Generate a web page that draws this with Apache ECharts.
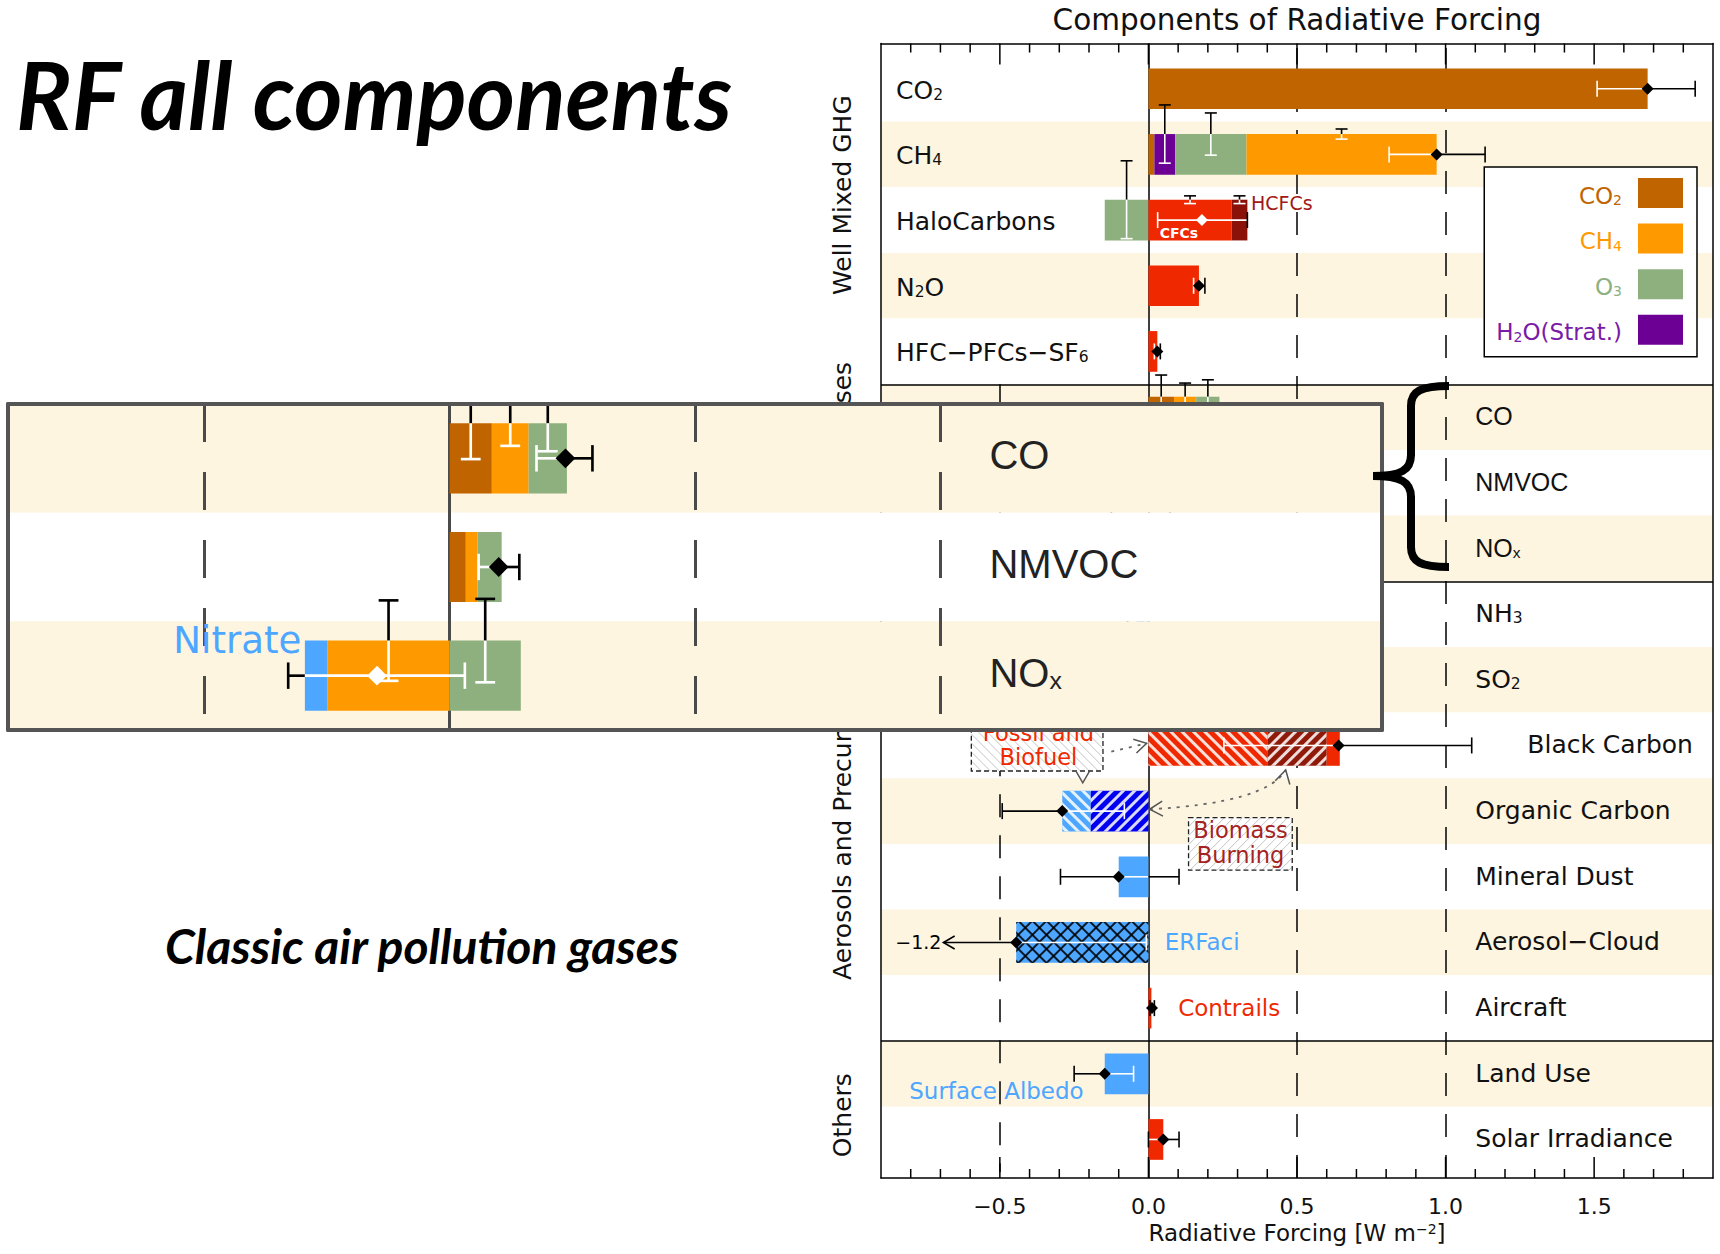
<!DOCTYPE html>
<html>
<head>
<meta charset="utf-8">
<title>Components of Radiative Forcing</title>
<script src="https://cdn.jsdelivr.net/npm/echarts@6/dist/echarts.min.js"></script>
<style>
html,body{margin:0;padding:0;background:#fff;}
#chart{width:1720px;height:1254px;}
</style>
</head>
<body>
<div id="chart"></div>
<script>
// ================= DATA (W m-2) =================
const _ = null;
const rows = ['CO2','CH4','HaloCarbons','N2O','HFC-PFCs-SF6','CO','NMVOC','NOx','NH3','SO2',
  'Black Carbon','Organic Carbon','Mineral Dust','Aerosol-Cloud','Aircraft','Land Use','Solar Irradiance'];
const rowLabels = ['CO{s|2}','CH{s|4}','HaloCarbons','N{s|2}O','HFC−PFCs−SF{s|6}','CO','NMVOC','NO{s|x}','NH{s|3}','SO{s|2}',
  'Black Carbon','Organic Carbon','Mineral Dust','Aerosol−Cloud','Aircraft','Land Use','Solar Irradiance'];
const groupNames = ['Well Mixed GHG','Short Lived Gases','Aerosols and Precursors','Others'];
const groupRows  = [[0,5],[5,8],[8,15],[15,17]];
const xTickLabels = [-0.5, 0.0, 0.5, 1.0, 1.5];
const refLines    = [-0.5, 0.0, 0.5, 1.0];

// stacked contributions, one entry per row
const co2Part      = [1.68, 0.02, _, _, _, 0.086, 0.033, _, _, _, _, _, _, _, _, _, _];
const h2oPart      = [_, 0.07, _, _, _, _, _, _, _, _, _, _, _, _, _, _, _];
const ch4Indirect  = [_, _, _, _, _, 0.075, 0.024, -0.249, _, _, _, _, _, _, _, _, _];
const o3Part       = [_, 0.24, -0.147, _, _, 0.078, 0.049, 0.145, _, _, _, _, _, _, _, _, _];
const ch4Direct    = [_, 0.64, _, _, _, _, _, _, _, _, _, _, _, _, _, _, _];
const nitratePart  = [_, _, _, _, _, _, _, -0.046, -0.04, _, _, _, _, _, _, _, _];
const sulphatePart = [_, _, _, _, _, _, _, _, _, -0.40, _, _, _, _, _, _, _];
const bcFossil     = [_, _, _, _, _, _, _, _, _, _, 0.40, _, _, _, _, _, _];
const bcBiomass    = [_, _, _, _, _, _, _, _, _, _, 0.20, _, _, _, _, _, _];
const redPart      = [_, _, 0.28, 0.17, 0.03, _, _, _, _, _, 0.044, _, _, _, 0.01, _, 0.05];
const hcfcPart     = [_, _, 0.053, _, _, _, _, _, _, _, _, _, _, _, _, _, _];
const ocBiomass    = [_, _, _, _, _, _, _, _, _, _, _, -0.195, _, _, _, _, _];
const ocFossil     = [_, _, _, _, _, _, _, _, _, _, _, -0.095, _, _, _, _, _];
const dustPart     = [_, _, _, _, _, _, _, _, _, _, _, _, -0.10, _, _, _, _];
const erfaciPart   = [_, _, _, _, _, _, _, _, _, _, _, _, _, -0.445, _, _, _];
const albedoPart   = [_, _, _, _, _, _, _, _, _, _, _, _, _, _, _, -0.147, _];

// half-ranges of the component uncertainty bars
const co2Unc    = [_, _, _, _, _, 0.073, _, _, _, _, _, _, _, _, _, _, _];
const h2oUnc    = [_, 0.098, _, _, _, _, _, _, _, _, _, _, _, _, _, _, _];
const ch4IndUnc = [_, _, _, _, _, 0.046, _, 0.082, _, _, _, _, _, _, _, _, _];
const o3Unc     = [_, 0.071, 0.131, _, _, 0.057, _, 0.085, _, _, _, _, _, _, _, _, _];
const ch4DirUnc = [_, 0.017, _, _, _, _, _, _, _, _, _, _, _, _, _, _, _];
const redUnc    = [_, _, 0.013, _, _, _, _, _, _, _, _, _, _, _, _, _, _];
const hcfcUnc   = [_, _, 0.013, _, _, _, _, _, _, _, _, _, _, _, _, _, _];

// totals with uncertainty range
const totalBest = [1.68, 0.97, 0.18, 0.17, 0.03, 0.236, 0.10, -0.148, -0.04, -0.40, 0.64, -0.29, -0.10, -0.445, 0.012, -0.147, 0.05];
const totalLow  = [1.51, 0.81, 0.031, 0.152, 0.02, 0.177, 0.059, -0.329, -0.07, -0.60, 0.254, -0.492, -0.296, -1.2, 0.005, -0.25, 0.0];
const totalHigh = [1.84, 1.133, 0.333, 0.19, 0.04, 0.291, 0.142, 0.031, -0.01, -0.20, 1.088, -0.081, 0.103, -0.007, 0.02, -0.05, 0.103];

// ================= LAYOUT / STYLE =================
const X_MIN = -0.9, X_MAX = 1.9;
const MAIN  = {left: 881, top: 43.5, width: 832, height: 1134.5};
const ROWS  = {left: 881, top: 55.9, width: 832, height: 1116.4};
const INSET = {left: 8, top: 404, width: 1374, height: 326};
const U_MAIN  = ROWS.width / (X_MAX - X_MIN);
const U_INSET = INSET.width / (X_MAX - X_MIN);
const S_INSET = U_INSET / U_MAIN;
const FRAC_MAIN = 0.62, FRAC_INSET = 0.645;
const IN_FROM = 5, IN_TO = 8;
const LABEL_X = 1.10;
const ARROW_AT = -0.69;
const GROUP_LABEL_AT = [2.12, 6.38, 11.79, 16.13];   // vertical centre (in rows) of the rotated group titles
const FONT = 'DejaVu Sans';
const C = {
  co2: '#c06400', ch4: '#ff9900', o3: '#8db07e', h2o: '#6c0094',
  red: '#f02800', dred: '#8f1a0a', hcfc: '#8a1208', lblue: '#4da6ff', dblue: '#0000f0',
  cream: '#fdf5e0', inset: '#555555', hcfcText: '#a01818', bioText: '#a52222', h2oText: '#7a1aa8'
};

const stackDefs = [
  {name: 'CO2', data: co2Part, color: C.co2, unc: co2Unc},
  {name: 'H2O(Strat.)', data: h2oPart, color: C.h2o, unc: h2oUnc},
  {name: 'CH4 via chemistry', data: ch4Indirect, color: C.ch4, unc: ch4IndUnc},
  {name: 'O3', data: o3Part, color: C.o3, unc: o3Unc},
  {name: 'CH4', data: ch4Direct, color: C.ch4, unc: ch4DirUnc},
  {name: 'Nitrate', data: nitratePart, color: C.lblue},
  {name: 'Sulphate', data: sulphatePart, color: C.lblue},
  {name: 'BC fossil and biofuel', data: bcFossil, color: C.red, hatch: 'back'},
  {name: 'BC biomass burning', data: bcBiomass, color: C.dred, hatch: 'fwd'},
  {name: 'Direct', data: redPart, color: C.red, unc: redUnc},
  {name: 'HCFCs', data: hcfcPart, color: C.hcfc, unc: hcfcUnc},
  {name: 'OC biomass burning', data: ocBiomass, color: C.dblue, hatch: 'fwd'},
  {name: 'OC fossil and biofuel', data: ocFossil, color: C.lblue, hatch: 'back'},
  {name: 'Mineral dust', data: dustPart, color: C.lblue},
  {name: 'ERFaci', data: erfaciPart, color: C.lblue, hatch: 'cross'},
  {name: 'Surface albedo', data: albedoPart, color: C.lblue}
];

// stacking (same-sign, as ECharts does) to know segment positions and bar extents
const segs = [];
const extent = rows.map(() => [0, 0]);
rows.forEach((r, i) => {
  let p = 0, n = 0;
  stackDefs.forEach(d => {
    const v = d.data[i];
    if (v == null) return;
    let a, b;
    if (v >= 0) { a = p; b = p + v; p = b; } else { a = n; b = n + v; n = b; }
    segs.push({row: i, d, start: a, end: b});
  });
  extent[i] = [n, p];
});

// ---------- text helpers ----------
function toRich(label, pre) {
  return label.split(/(\{s\|[^}]*\})/).filter(p => p).map(p =>
    p.startsWith('{s|') ? p.replace('{s|', '{' + pre + 's|') : '{' + pre + 'n|' + p + '}').join('');
}
function richPair(pre, size, family, color) {
  const o = {};
  o[pre + 'n'] = {fontFamily: family, fontSize: size, lineHeight: size * 1.2, verticalAlign: 'bottom', color};
  o[pre + 's'] = {fontFamily: family, fontSize: size * 0.62, lineHeight: size * 0.2, verticalAlign: 'bottom', color};
  return o;
}
const richMain = Object.assign({}, richPair('', 25, FONT, '#111'), richPair('a', 25, 'Liberation Sans', '#111'),
  {bc: {fontFamily: FONT, fontSize: 25, lineHeight: 30, verticalAlign: 'bottom', color: '#111', padding: [0, 0, 0, 52]}});
const richInset = Object.assign({}, richPair('a', 40, 'Liberation Sans', '#222'));
const arialRows = [5, 6, 7];
function rightLabel(i) {
  if (rows[i] === 'Black Carbon') return '{bc|' + rowLabels[i] + '}';
  return toRich(rowLabels[i], arialRows.includes(i) ? 'a' : '');
}

// ---------- decals ----------
function stripe(dir, s, color, w, gap) {
  return {symbol: 'rect', symbolSize: 1, color, dashArrayX: [1, 0], dashArrayY: [w * s, gap * s],
          rotation: dir === 'back' ? Math.PI / 4 : -Math.PI / 4};
}
function barsFor(xi, yi, from, to, zlevel, frac, s, stackKey) {
  const list = [];
  stackDefs.forEach(d => {
    const base = {type: 'bar', xAxisIndex: xi, yAxisIndex: yi, zlevel, z: 2, silent: true, animation: false,
      barWidth: (frac * 100).toFixed(1) + '%', barGap: '-100%', data: d.data.slice(from, to)};
    const it = {color: d.color};
    if (d.hatch === 'back' || d.hatch === 'fwd') it.decal = stripe(d.hatch, s, 'rgba(255,255,255,0.85)', 2.3, 4.8);
    if (d.hatch === 'cross') it.decal = stripe('back', s, 'rgba(0,0,0,0.85)', 1.4, 7.2);
    list.push(Object.assign({}, base, {name: d.name, stack: stackKey, itemStyle: it}));
    if (d.hatch === 'cross') {
      list.push(Object.assign({}, base, {name: d.name + ' hatch', stack: stackKey + '-hatch',
        itemStyle: {color: 'rgba(0,0,0,0)', decal: stripe('fwd', s, 'rgba(0,0,0,0.85)', 1.4, 7.2)}}));
    }
  });
  return list;
}

// ---------- custom renderers ----------
function chevron(tx, ty, dx, dy, len, stroke, lw) {
  const m = Math.hypot(dx, dy), bx = -dx / m, by = -dy / m, a = Math.PI / 6;
  const c = Math.cos(a), sn = Math.sin(a);
  const p1 = [tx + (bx * c - by * sn) * len, ty + (bx * sn + by * c) * len];
  const p2 = [tx + (bx * c + by * sn) * len, ty + (-bx * sn + by * c) * len];
  return {type: 'polyline', shape: {points: [p1, [tx, ty], p2]}, style: {stroke, lineWidth: lw, fill: null}};
}
function fmt(v) { return (v < 0 ? '−' : '') + Math.abs(v).toFixed(1); }

function totalsData(from, to) {
  const out = [];
  for (let i = from; i < to; i++) if (totalBest[i] != null) out.push([totalBest[i], i - from + 0.5, i]);
  return out;
}
function totalsRender(from) {
  return function (params, api) {
    const i = api.value(2);
    const best = totalBest[i], lo = totalLow[i], hi = totalHigh[i];
    const u = api.size([1, 0])[0], s = u / U_MAIN;
    const yc = api.coord([0, i - from + 0.5])[1];
    const X = v => api.coord([v, 0])[0];
    const bmin = extent[i][0], bmax = extent[i][1];
    const inBar = (v, m) => v > bmin + m && v < bmax - m;
    const lw = 1.6 * s, cap = 8 * s, dm = 6 * s;
    const kids = [];
    let loD = lo, arrow = false;
    if (lo < X_MIN) { loD = ARROW_AT; arrow = true; }
    const cuts = [loD, hi, bmin, bmax].filter(v => v >= loD && v <= hi).sort((a, b) => a - b);
    for (let k = 0; k < cuts.length - 1; k++) {
      const a = cuts[k], b = cuts[k + 1];
      if (b - a <= 1e-9) continue;
      kids.push({type: 'line', shape: {x1: X(a), y1: yc, x2: X(b), y2: yc},
        style: {stroke: inBar((a + b) / 2, 0) ? '#fff' : '#000', lineWidth: lw}});
    }
    const capEl = v => ({type: 'line', shape: {x1: X(v), y1: yc - cap, x2: X(v), y2: yc + cap},
      style: {stroke: inBar(v, 0.005) ? '#fff' : '#000', lineWidth: lw}});
    if (!arrow) kids.push(capEl(lo));
    else {
      kids.push(chevron(X(loD), yc, -1, 0, 13 * s, '#000', lw));
      kids.push({type: 'text', style: {x: X(loD) - 2 * s, y: yc, text: fmt(lo), fill: '#000',
        fontFamily: FONT, fontSize: 19 * s, align: 'right', verticalAlign: 'middle'}});
    }
    kids.push(capEl(hi));
    const xb = X(best);
    kids.push({type: 'polygon', shape: {points: [[xb - dm, yc], [xb, yc - dm], [xb + dm, yc], [xb, yc + dm]]},
      style: {fill: inBar(best, 0.012) ? '#fff' : '#000', stroke: null}});
    return {type: 'group', children: kids};
  };
}

function compData(from, to) {
  return segs.filter(g => g.row >= from && g.row < to && g.d.unc && g.d.unc[g.row] != null)
    .map(g => [(g.start + g.end) / 2, g.row - from + 0.5, g.d.unc[g.row]]);
}
function compRender(frac) {
  return function (params, api) {
    const cx = api.value(0), yv = api.value(1), unc = api.value(2);
    const u = api.size([1, 0])[0], s = u / U_MAIN, rowPx = api.size([0, 1])[1];
    const p = api.coord([cx, yv]);
    const x = p[0], yTop = p[1] - rowPx * frac / 2;
    const h = unc * u, w = 6 * s, lw = 1.6 * s;
    return {type: 'group', children: [
      {type: 'line', shape: {x1: x, y1: yTop - h, x2: x, y2: yTop}, style: {stroke: '#000', lineWidth: lw}},
      {type: 'line', shape: {x1: x, y1: yTop, x2: x, y2: yTop + h}, style: {stroke: '#fff', lineWidth: lw}},
      {type: 'line', shape: {x1: x - w, y1: yTop - h, x2: x + w, y2: yTop - h}, style: {stroke: '#000', lineWidth: lw}},
      {type: 'line', shape: {x1: x - w, y1: yTop + h, x2: x + w, y2: yTop + h}, style: {stroke: '#fff', lineWidth: lw}}
    ]};
  };
}

// annotation layout (value coordinates: x in W m-2, y in rows)
const textNotes = [
  {row: 2, x: 0.345, dy: -0.255, text: 'HCFCs', color: C.hcfcText, size: 19, align: 'left'},
  {row: 2, x: 0.038, dy: 0.2, text: 'CFCs', color: '#fff', size: 14, align: 'left', weight: 'bold'},
  {row: 7, x: -0.302, top: true, text: 'Nitrate', color: C.lblue, size: 22.5, align: 'right'},
  {row: 13, x: 0.055, dy: 0, text: 'ERFaci', color: C.lblue, size: 23, align: 'left'},
  {row: 14, x: 0.10, dy: 0, text: 'Contrails', color: C.red, size: 23, align: 'left'},
  {row: 15, x: -0.805, dy: 0.26, text: 'Surface Albedo', color: C.lblue, size: 23, align: 'left'}
];
const noteBoxes = [
  {x0: -0.596, x1: -0.153, y0: 10.0, y1: 10.889, hatch: 'back', cx: -0.37, color: C.red,
   lines: [['Fossil and', 10.31], ['Biofuel', 10.68]]},
  {x0: 0.135, x1: 0.484, y0: 11.60, y1: 12.40, hatch: 'fwd', cx: 0.31, color: C.bioText,
   lines: [['Biomass', 11.79], ['Burning', 12.17]]}
];
function hatchLines(x0, y0, x1, y1, dir, step, stroke) {
  const out = [];
  if (dir === 'back') {
    for (let c = y0 - x1; c <= y1 - x0; c += step) {
      const xa = Math.max(x0, y0 - c), xb = Math.min(x1, y1 - c);
      if (xb > xa) out.push({type: 'line', shape: {x1: xa, y1: xa + c, x2: xb, y2: xb + c}, style: {stroke, lineWidth: 1}});
    }
  } else {
    for (let c = x0 + y0; c <= x1 + y1; c += step) {
      const xa = Math.max(x0, c - y1), xb = Math.min(x1, c - y0);
      if (xb > xa) out.push({type: 'line', shape: {x1: xa, y1: c - xa, x2: xb, y2: c - xb}, style: {stroke, lineWidth: 1}});
    }
  }
  return out;
}
function notesRender(from, to, frac, withBoxes) {
  return function (params, api) {
    const u = api.size([1, 0])[0], s = u / U_MAIN;
    const P = (x, y) => api.coord([x, y]);
    const kids = [];
    textNotes.filter(t => t.row >= from && t.row < to).forEach(t => {
      const yv = t.row - from + 0.5 + (t.top ? -frac / 2 : t.dy);
      const p = P(t.x, yv);
      kids.push({type: 'text', style: {x: p[0], y: p[1], text: t.text, fill: t.color, fontFamily: FONT,
        fontSize: t.size * s, fontWeight: t.weight || 'normal', align: t.align, verticalAlign: 'middle'}});
    });
    if (withBoxes) {
      noteBoxes.forEach(b => {
        const a = P(b.x0, b.y0), c = P(b.x1, b.y1);
        kids.push({type: 'rect', shape: {x: a[0], y: a[1], width: c[0] - a[0], height: c[1] - a[1]}, style: {fill: '#fff'}});
        hatchLines(a[0], a[1], c[0], c[1], b.hatch, 9, '#c4c4c4').forEach(l => kids.push(l));
        kids.push({type: 'rect', shape: {x: a[0], y: a[1], width: c[0] - a[0], height: c[1] - a[1]},
          style: {fill: null, stroke: '#222', lineWidth: 1.3, lineDash: [5, 3]}});
        b.lines.forEach(l => {
          const q = P(b.cx, l[1]);
          kids.push({type: 'text', style: {x: q[0], y: q[1], text: l[0], fill: b.color, fontFamily: FONT,
            fontSize: 22.5, align: 'center', verticalAlign: 'middle'}});
        });
      });
      const dot = {stroke: '#666', lineWidth: 1.8, lineDash: [3, 6], fill: null};
      const f0 = P(-0.125, 10.595), f1 = P(-0.006, 10.468);
      kids.push({type: 'line', shape: {x1: f0[0], y1: f0[1], x2: f1[0], y2: f1[1]}, style: dot});
      kids.push(chevron(f1[0], f1[1], f1[0] - f0[0], f1[1] - f0[1], 14, '#555', 1.5));
      const v = P(-0.221, 11.07);
      kids.push(chevron(v[0], v[1], 0, 1, 13, '#555', 1.5));
      const c0 = P(0.004, 11.472), cc = P(0.395, 11.377), c1 = P(0.462, 10.874);
      kids.push({type: 'bezierCurve', shape: {x1: c0[0], y1: c0[1], x2: c1[0], y2: c1[1], cpx1: cc[0], cpy1: cc[1]}, style: dot});
      kids.push(chevron(c0[0], c0[1], c0[0] - cc[0], c0[1] - cc[1], 15, '#555', 1.5));
      kids.push(chevron(c1[0], c1[1], 0.25, -1, 15, '#555', 1.5));
      const gx = P(X_MIN, 0)[0] - 38.5;
      groupNames.forEach((g, k) => {
        kids.push({type: 'text', x: gx, y: P(X_MIN, GROUP_LABEL_AT[k])[1], rotation: Math.PI / 2,
          style: {text: g, fontFamily: FONT, fontSize: 25, fill: '#111', align: 'center', verticalAlign: 'middle'}});
      });
    }
    return {type: 'group', children: kids};
  };
}

const minorTicks = [];
for (let k = -8; k <= 18; k++) minorTicks.push([k / 10, 0]);
function tickRender(params, api) {
  const v = api.value(0);
  const pb = api.coord([v, 0]), pt = api.coord([v, 1]);
  const major = Math.abs(v * 2 - Math.round(v * 2)) < 1e-6;
  const L = major ? 21 : 9;
  return {type: 'group', children: [
    {type: 'line', shape: {x1: pt[0], y1: pt[1], x2: pt[0], y2: pt[1] + L}, style: {stroke: '#000', lineWidth: 1.5}},
    {type: 'line', shape: {x1: pb[0], y1: pb[1], x2: pb[0], y2: pb[1] - L}, style: {stroke: '#000', lineWidth: 1.5}}
  ]};
}

const DASH_MAIN = [23, 18];
function vLine(v, color, width, dash) { return {xAxis: v, lineStyle: {color, width, type: v === 0 ? 'solid' : dash}}; }
// in the main panel the -0.5 line only runs through the lower groups
const mainFullLines = refLines.filter(v => v >= 0).map(v => vLine(v, '#000', 1.5, DASH_MAIN));
const mainPartLines = refLines.filter(v => v < 0).map(v => [
  {coord: [v, groupRows[1][0]], lineStyle: {color: '#000', width: 1.5, type: DASH_MAIN}},
  {coord: [v, rows.length]}]);

// brace linking the inset to the short-lived gases rows (decoration)
const braceStyle = {stroke: '#000', lineWidth: 8, fill: null};
const brace = [
  {type: 'bezierCurve', shape: {x1: 1449, y1: 386, cpx1: 1421, cpy1: 386, cpx2: 1411, cpy2: 391, x2: 1411, y2: 406}},
  {type: 'line', shape: {x1: 1411, y1: 405, x2: 1411, y2: 456}},
  {type: 'bezierCurve', shape: {x1: 1411, y1: 455, cpx1: 1411, cpy1: 470, cpx2: 1401, cpy2: 476, x2: 1373, y2: 476}},
  {type: 'bezierCurve', shape: {x1: 1373, y1: 476, cpx1: 1401, cpy1: 476, cpx2: 1411, cpy2: 482, x2: 1411, y2: 497}},
  {type: 'line', shape: {x1: 1411, y1: 496, x2: 1411, y2: 548}},
  {type: 'bezierCurve', shape: {x1: 1411, y1: 547, cpx1: 1411, cpy1: 562, cpx2: 1421, cpy2: 567, x2: 1449, y2: 567}}
].map(e => Object.assign(e, {zlevel: 1, z: 30, style: braceStyle}));

// ================= OPTION =================
const offAxis = {axisTick: {show: false}, axisLabel: {show: false}, splitLine: {show: false}};
const frameLine = {show: true, onZero: false, lineStyle: {color: '#000', width: 1.5}};
const insetLine = {show: true, onZero: false, lineStyle: {color: C.inset, width: 4}};
const mlBase = {silent: true, symbol: ['none', 'none'], animation: false, label: {show: false}};

const option = {
  animation: false,
  textStyle: {fontFamily: FONT},
  grid: [
    Object.assign({}, MAIN, {containLabel: false}),
    Object.assign({}, ROWS, {containLabel: false}),
    Object.assign({}, INSET, {containLabel: false, zlevel: 1})
  ],
  xAxis: [
    Object.assign({gridIndex: 0, type: 'value', min: X_MIN, max: X_MAX, position: 'bottom', z: 3,
      axisLine: frameLine, axisTick: {show: false}, splitLine: {show: false},
      axisLabel: {customValues: xTickLabels, formatter: fmt, margin: 17, fontSize: 22, color: '#111', fontFamily: FONT},
      name: '{n|Radiative Forcing [W m}{p|−2}{n|]}', nameLocation: 'middle', nameGap: 43,
      nameTextStyle: {rich: {n: {fontFamily: FONT, fontSize: 23, lineHeight: 28, verticalAlign: 'top', color: '#111'},
                             p: {fontFamily: FONT, fontSize: 14, lineHeight: 6, verticalAlign: 'top', color: '#111'}}}}),
    Object.assign({gridIndex: 0, type: 'value', min: X_MIN, max: X_MAX, position: 'top', z: 3, axisLine: frameLine}, offAxis),
    {gridIndex: 1, type: 'value', min: X_MIN, max: X_MAX, show: false},
    Object.assign({gridIndex: 2, type: 'value', min: X_MIN, max: X_MAX, position: 'bottom', zlevel: 1, z: 6, axisLine: insetLine}, offAxis),
    Object.assign({gridIndex: 2, type: 'value', min: X_MIN, max: X_MAX, position: 'top', zlevel: 1, z: 6, axisLine: insetLine}, offAxis)
  ],
  yAxis: [
    Object.assign({gridIndex: 0, type: 'value', min: 0, max: 1, position: 'left', z: 3, axisLine: frameLine}, offAxis),
    Object.assign({gridIndex: 0, type: 'value', min: 0, max: 1, position: 'right', z: 3, axisLine: frameLine}, offAxis),
    {gridIndex: 1, type: 'category', data: rows, inverse: true, position: 'left',
      axisLine: {show: false}, axisTick: {show: false}, splitLine: {show: false},
      splitArea: {show: true, interval: 0, areaStyle: {color: ['#ffffff', C.cream]}},
      axisLabel: {inside: true, margin: 15, align: 'left', interval: 0, padding: [0, 0, 2, 0],
        formatter: (v, i) => i < 5 ? toRich(rowLabels[i], '') : '', rich: richMain}},
    {gridIndex: 1, type: 'category', data: rows, inverse: true, position: 'right',
      axisLine: {show: false}, axisTick: {show: false}, splitLine: {show: false},
      axisLabel: {inside: true, margin: (X_MAX - LABEL_X) * U_MAIN, align: 'left', interval: 0, padding: [0, 0, 6.5, 0],
        formatter: (v, i) => i >= 5 ? rightLabel(i) : '', rich: richMain}},
    {gridIndex: 1, type: 'value', min: 0, max: rows.length, inverse: true, show: false},
    {gridIndex: 2, type: 'category', data: rows.slice(IN_FROM, IN_TO), inverse: true, position: 'left', zlevel: 1, z: 0,
      axisLine: insetLine, axisTick: {show: false}, axisLabel: {show: false}, splitLine: {show: false},
      splitArea: {show: true, interval: 0, areaStyle: {color: [C.cream, '#ffffff']}}},
    {gridIndex: 2, type: 'category', data: rows.slice(IN_FROM, IN_TO), inverse: true, position: 'right', zlevel: 1, z: 6,
      axisLine: insetLine, axisTick: {show: false}, splitLine: {show: false},
      axisLabel: {inside: true, margin: (X_MAX - LABEL_X) * U_INSET, align: 'left', interval: 0, padding: [0, 0, 14, 0],
        formatter: (v, i) => toRich(rowLabels[i + IN_FROM], 'a'), rich: richInset}},
    {gridIndex: 2, type: 'value', min: 0, max: IN_TO - IN_FROM, inverse: true, show: false}
  ],
  legend: {
    right: 23, top: 167, orient: 'vertical', align: 'right', icon: 'rect', itemWidth: 45, itemHeight: 30, itemGap: 15.6,
    padding: [11, 14, 12, 12], borderColor: '#000', borderWidth: 1.5, backgroundColor: '#fff', selectedMode: false, z: 6,
    data: [
      {name: 'CO2', textStyle: {color: C.co2}},
      {name: 'CH4', textStyle: {color: C.ch4}},
      {name: 'O3', textStyle: {color: C.o3}},
      {name: 'H2O(Strat.)', textStyle: {color: C.h2oText}}
    ],
    formatter: name => ({'CO2': '{n|CO}{s|2}', 'CH4': '{n|CH}{s|4}', 'O3': '{n|O}{s|3}', 'H2O(Strat.)': '{n|H}{s|2}{n|O(Strat.)}'}[name]) + '{g| }',
    textStyle: {rich: {
      n: {fontFamily: FONT, fontSize: 23, lineHeight: 28, verticalAlign: 'bottom'},
      s: {fontFamily: FONT, fontSize: 14, lineHeight: 6, verticalAlign: 'bottom'},
      g: {fontSize: 10, width: 11}
    }}
  },
  graphic: [
    {type: 'text', x: 16, y: 94, style: {text: 'RF all components', fontFamily: 'Lato', fontSize: 93, fontWeight: 'bold',
      fontStyle: 'italic', fill: '#000', align: 'left', verticalAlign: 'middle'}},
    {type: 'text', x: 165, y: 945, style: {text: 'Classic air pollution gases', fontFamily: 'Lato', fontSize: 48, fontWeight: 'bold',
      fontStyle: 'italic', fill: '#000', align: 'left', verticalAlign: 'middle'}},
    {type: 'text', x: 1297, y: 20, style: {text: 'Components of Radiative Forcing', fontFamily: FONT, fontSize: 29.5,
      fill: '#111', align: 'center', verticalAlign: 'middle'}}
  ].concat(brace),
  series: [
    {type: 'custom', name: 'ticks', xAxisIndex: 0, yAxisIndex: 0, data: minorTicks, renderItem: tickRender, silent: true, z: 3, clip: false},
    {type: 'line', name: 'ref', xAxisIndex: 0, yAxisIndex: 0, data: [], silent: true, z: 1,
      markLine: Object.assign({data: mainFullLines, zlevel: 0, z: 1}, mlBase)},
    {type: 'line', name: 'groups', xAxisIndex: 2, yAxisIndex: 4, data: [], silent: true, z: 3,
      markLine: Object.assign({zlevel: 0, z: 3, data: groupRows.slice(0, 3).map(g => ({yAxis: g[1], lineStyle: {color: '#000', width: 1.5, type: 'solid'}}))}, mlBase)},
    {type: 'line', name: 'ref lower', xAxisIndex: 2, yAxisIndex: 4, data: [], silent: true, z: 1,
      markLine: Object.assign({data: mainPartLines, zlevel: 0, z: 1}, mlBase)},
    ...barsFor(2, 2, 0, rows.length, 0, FRAC_MAIN, 1, 'main'),
    {type: 'custom', name: 'component uncertainty', xAxisIndex: 2, yAxisIndex: 4, data: compData(0, rows.length),
      renderItem: compRender(FRAC_MAIN), silent: true, z: 3, clip: false},
    {type: 'custom', name: 'total', xAxisIndex: 2, yAxisIndex: 4, data: totalsData(0, rows.length),
      renderItem: totalsRender(0), silent: true, z: 4, clip: false},
    {type: 'custom', name: 'notes', xAxisIndex: 2, yAxisIndex: 4, data: [[0, 0]],
      renderItem: notesRender(0, rows.length, FRAC_MAIN, true), silent: true, z: 5, clip: false},
    {type: 'line', name: 'inset ref', xAxisIndex: 3, yAxisIndex: 7, data: [], silent: true, zlevel: 1, z: 1,
      markLine: Object.assign({zlevel: 1, z: 1, data: refLines.map(v => vLine(v, '#4a4a4a', 3, [38, 30]))}, mlBase)},
    ...barsFor(3, 5, IN_FROM, IN_TO, 1, FRAC_INSET, S_INSET, 'inset'),
    {type: 'custom', name: 'inset component uncertainty', xAxisIndex: 3, yAxisIndex: 7, data: compData(IN_FROM, IN_TO),
      renderItem: compRender(FRAC_INSET), silent: true, zlevel: 1, z: 3, clip: true},
    {type: 'custom', name: 'inset total', xAxisIndex: 3, yAxisIndex: 7, data: totalsData(IN_FROM, IN_TO),
      renderItem: totalsRender(IN_FROM), silent: true, zlevel: 1, z: 4, clip: true},
    {type: 'custom', name: 'inset notes', xAxisIndex: 3, yAxisIndex: 7, data: [[0, 0]],
      renderItem: notesRender(IN_FROM, IN_TO, FRAC_INSET, false), silent: true, zlevel: 1, z: 5, clip: false}
  ]
};

const chart = echarts.init(document.getElementById('chart'), null, {renderer: 'svg', width: 1720, height: 1254});
chart.setOption(option);
</script>
</body>
</html>
